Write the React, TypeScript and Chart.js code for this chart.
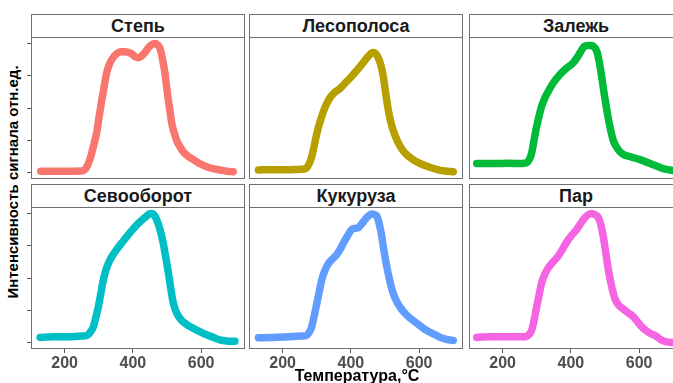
import React, { useEffect, useRef } from "react";
import { Chart, registerables } from "chart.js";

Chart.register(...registerables);

// Thermogram signal (relative units) vs temperature, °C, for each land-use plot
const stepTemp = [130, 200, 250, 262, 274, 284, 294, 302, 309, 316, 323, 330, 338, 352, 365, 377, 388, 396, 408, 416, 424, 432, 441, 450, 458, 465, 472, 479, 486, 494, 499, 504, 509, 514, 521, 528, 538, 548, 562, 577, 595, 616, 635, 655, 675, 694];
const stepSignal = [0.01, 0.01, 0.012, 0.03, 0.1, 0.2, 0.31, 0.45, 0.56, 0.67, 0.77, 0.83, 0.875, 0.92, 0.935, 0.935, 0.93, 0.92, 0.895, 0.89, 0.9, 0.92, 0.95, 0.98, 0.995, 1.0, 0.99, 0.965, 0.89, 0.77, 0.66, 0.56, 0.47, 0.38, 0.31, 0.25, 0.2, 0.16, 0.125, 0.1, 0.07, 0.045, 0.03, 0.02, 0.01, 0.006];

const beltTemp = [129, 170, 220, 255, 270, 278, 285, 292, 300, 307, 314, 325, 339, 352, 368, 382, 397, 412, 427, 440, 451, 460, 466, 473, 480, 488, 495, 500, 505, 512, 520, 529, 539, 550, 563, 582, 603, 627, 651, 675, 700];
const beltSignal = [0.02, 0.022, 0.022, 0.025, 0.035, 0.07, 0.12, 0.2, 0.3, 0.37, 0.43, 0.51, 0.58, 0.62, 0.65, 0.69, 0.73, 0.775, 0.82, 0.865, 0.9, 0.925, 0.93, 0.92, 0.89, 0.83, 0.745, 0.65, 0.56, 0.45, 0.36, 0.29, 0.23, 0.18, 0.14, 0.1, 0.07, 0.045, 0.025, 0.012, 0.006];

const fallowTemp = [124, 170, 220, 255, 270, 278, 285, 292, 300, 307, 314, 324, 334, 350, 368, 388, 407, 418, 427, 434, 441, 451, 461, 469, 476, 483, 490, 497, 505, 514, 524, 538, 554, 578, 603, 622, 641, 656, 671, 690, 700];
const fallowSignal = [0.07, 0.07, 0.072, 0.07, 0.075, 0.1, 0.15, 0.25, 0.36, 0.44, 0.51, 0.58, 0.63, 0.7, 0.76, 0.81, 0.85, 0.89, 0.93, 0.96, 0.98, 0.985, 0.985, 0.97, 0.94, 0.86, 0.745, 0.62, 0.49, 0.36, 0.25, 0.18, 0.14, 0.12, 0.1, 0.08, 0.06, 0.045, 0.03, 0.02, 0.015];

const rotationTemp = [128, 170, 220, 250, 265, 275, 284, 291, 299, 306, 313, 322, 333, 342, 352, 367, 382, 396, 411, 425, 440, 447, 455, 463, 470, 480, 489, 497, 504, 511, 519, 530, 543, 560, 577, 596, 616, 636, 655, 675, 699];
const rotationSignal = [0.04, 0.045, 0.045, 0.05, 0.055, 0.08, 0.12, 0.19, 0.28, 0.38, 0.48, 0.57, 0.64, 0.68, 0.72, 0.77, 0.82, 0.865, 0.91, 0.945, 0.98, 0.995, 1.0, 0.985, 0.95, 0.87, 0.77, 0.65, 0.54, 0.42, 0.3, 0.22, 0.17, 0.135, 0.11, 0.085, 0.06, 0.04, 0.02, 0.012, 0.01];

const cornTemp = [129, 170, 220, 255, 270, 278, 285, 292, 300, 307, 314, 324, 334, 345, 358, 368, 378, 390, 402, 412, 422, 432, 441, 451, 461, 470, 476, 483, 490, 497, 505, 514, 524, 538, 554, 573, 593, 612, 632, 647, 661, 680, 700];
const cornSignal = [0.037, 0.04, 0.045, 0.05, 0.055, 0.08, 0.12, 0.2, 0.3, 0.39, 0.48, 0.56, 0.61, 0.645, 0.68, 0.72, 0.77, 0.825, 0.875, 0.885, 0.89, 0.92, 0.95, 0.98, 0.995, 0.99, 0.98, 0.92, 0.83, 0.71, 0.59, 0.48, 0.38, 0.3, 0.24, 0.19, 0.15, 0.11, 0.08, 0.06, 0.04, 0.025, 0.016];

const bareTemp = [124, 170, 220, 255, 270, 278, 285, 292, 300, 307, 314, 324, 334, 348, 363, 376, 388, 402, 417, 427, 436, 448, 461, 471, 480, 488, 495, 502, 510, 519, 529, 540, 554, 568, 583, 597, 612, 630, 651, 665, 680, 700];
const bareSignal = [0.04, 0.045, 0.045, 0.045, 0.047, 0.065, 0.094, 0.17, 0.28, 0.37, 0.46, 0.53, 0.58, 0.625, 0.67, 0.725, 0.78, 0.83, 0.875, 0.915, 0.95, 0.985, 1.0, 0.99, 0.97, 0.91, 0.82, 0.7, 0.56, 0.44, 0.34, 0.29, 0.26, 0.23, 0.2, 0.155, 0.11, 0.075, 0.047, 0.02, 0.005, 0.0];

const panelTitles = ["Степь", "Лесополоса", "Залежь", "Севооборот", "Кукуруза", "Пар"];
const panelColors = ["#F8766D", "#B79F00", "#00BA38", "#00BFC4", "#619CFF", "#F564E3"];
const panelTemps = [stepTemp, beltTemp, fallowTemp, rotationTemp, cornTemp, bareTemp];
const panelSignals = [stepSignal, beltSignal, fallowSignal, rotationSignal, cornSignal, bareSignal];

const xTicks = [200, 400, 600];
const yTicks = [0, 0.25, 0.5, 0.75, 1];
const xTitle = "Температура,°С";
const yTitle = "Интенсивность сигнала отн.ед.";

// scale limits with a 5% margin around the data
const X_MIN = 101.5;
const X_MAX = 728.5;
const Y_MIN = -0.05;
const Y_MAX = 1.05;

// grid geometry (px)
const COL_LEFT = [31, 249, 469];
const PANEL_W = 214;
const ROW_TOP = [14, 184];
const STRIP_H = 23;
const PLOT_H = 142;
const Y_AXIS_W = 4;
const X_AXIS_H = 24;

const FONT = "'Liberation Sans', Arial, sans-serif";
const FRAME = "#707070";
const TICK_COLOR = "#555555";

const panelFrame = {
  id: "panelFrame",
  afterDraw(chart: any) {
    const { ctx, chartArea: a } = chart;
    ctx.save();
    ctx.strokeStyle = FRAME;
    ctx.lineWidth = 1;
    ctx.strokeRect(a.left + 0.5, a.top + 0.5, a.right - a.left - 1, a.bottom - a.top - 1);
    ctx.restore();
  },
};

function Panel({ index }: { index: number }) {
  const ref = useRef<HTMLCanvasElement>(null);
  const col = index % 3;
  const row = Math.floor(index / 3);
  const showY = col === 0;
  const showX = row === 1;
  const width = PANEL_W + (showY ? Y_AXIS_W : 0);
  const height = PLOT_H + (showX ? X_AXIS_H : 0);
  const left = COL_LEFT[col] - (showY ? Y_AXIS_W : 0);
  const top = ROW_TOP[row] + STRIP_H;

  useEffect(() => {
    const temps = panelTemps[index];
    const signals = panelSignals[index];
    const chart = new Chart(ref.current as HTMLCanvasElement, {
      type: "line",
      data: {
        datasets: [
          {
            data: temps.map((t, i) => ({ x: t, y: signals[i] })),
            borderColor: panelColors[index],
            borderWidth: 7.5,
            pointRadius: 0,
            cubicInterpolationMode: "monotone",
            borderCapStyle: "round",
            borderJoinStyle: "round",
            fill: false,
          },
        ],
      },
      options: {
        animation: false,
        responsive: false,
        maintainAspectRatio: false,
        events: [],
        layout: { padding: 0 },
        plugins: { legend: { display: false }, tooltip: { enabled: false } },
        scales: {
          x: {
            type: "linear",
            min: X_MIN,
            max: X_MAX,
            display: showX,
            afterBuildTicks: (s: any) => {
              s.ticks = xTicks.map((v) => ({ value: v }));
            },
            afterFit: (s: any) => {
              s.height = showX ? X_AXIS_H : 0;
            },
            grid: { drawOnChartArea: false, drawTicks: true, tickLength: 4, color: TICK_COLOR },
            border: { display: false },
            ticks: {
              font: { family: FONT, size: 16, weight: "bold" },
              color: "#4d4d4d",
              padding: 1,
              maxRotation: 0,
              autoSkip: false,
            },
          },
          y: {
            type: "linear",
            min: Y_MIN,
            max: Y_MAX,
            display: showY,
            afterBuildTicks: (s: any) => {
              s.ticks = yTicks.map((v) => ({ value: v }));
            },
            afterFit: (s: any) => {
              s.width = showY ? Y_AXIS_W : 0;
            },
            grid: { drawOnChartArea: false, drawTicks: true, tickLength: 4, color: TICK_COLOR },
            border: { display: false },
            ticks: { display: false },
          },
        },
      },
      plugins: [panelFrame],
    } as any);
    return () => chart.destroy();
  }, [index]);

  return (
    <>
      <div
        style={{
          position: "absolute",
          left: COL_LEFT[col],
          top: ROW_TOP[row],
          width: PANEL_W,
          height: STRIP_H + 1,
          boxSizing: "border-box",
          border: `1px solid ${FRAME}`,
          background: "#ffffff",
          color: "#1a1a1a",
          font: `bold 18px ${FONT}`,
          lineHeight: `${STRIP_H - 1}px`,
          textAlign: "center",
        }}
      >
        {panelTitles[index]}
      </div>
      <canvas
        ref={ref}
        width={width}
        height={height}
        style={{ position: "absolute", left, top, width, height }}
      />
    </>
  );
}

export default function App() {
  const plotsTop = ROW_TOP[0];
  const plotsBottom = ROW_TOP[1] + STRIP_H + PLOT_H;
  const plotsCenterX = (COL_LEFT[0] + COL_LEFT[2] + PANEL_W) / 2;
  return (
    <div
      style={{
        position: "absolute",
        left: 0,
        top: 0,
        width: 673,
        height: 383,
        overflow: "hidden",
        background: "#ffffff",
      }}
    >
      {panelTitles.map((_, i) => (
        <Panel key={i} index={i} />
      ))}
      <div
        style={{
          position: "absolute",
          left: plotsCenterX - 150,
          width: 300,
          top: 367,
          textAlign: "center",
          font: `bold 16px ${FONT}`,
          lineHeight: "18px",
          color: "#000000",
          whiteSpace: "nowrap",
        }}
      >
        {xTitle}
      </div>
      <div
        style={{
          position: "absolute",
          left: 14 - 150,
          top: (plotsTop + plotsBottom) / 2 - 10,
          width: 300,
          height: 20,
          lineHeight: "20px",
          textAlign: "center",
          font: `bold 15px ${FONT}`,
          color: "#000000",
          whiteSpace: "nowrap",
          transform: "rotate(-90deg)",
        }}
      >
        {yTitle}
      </div>
    </div>
  );
}
